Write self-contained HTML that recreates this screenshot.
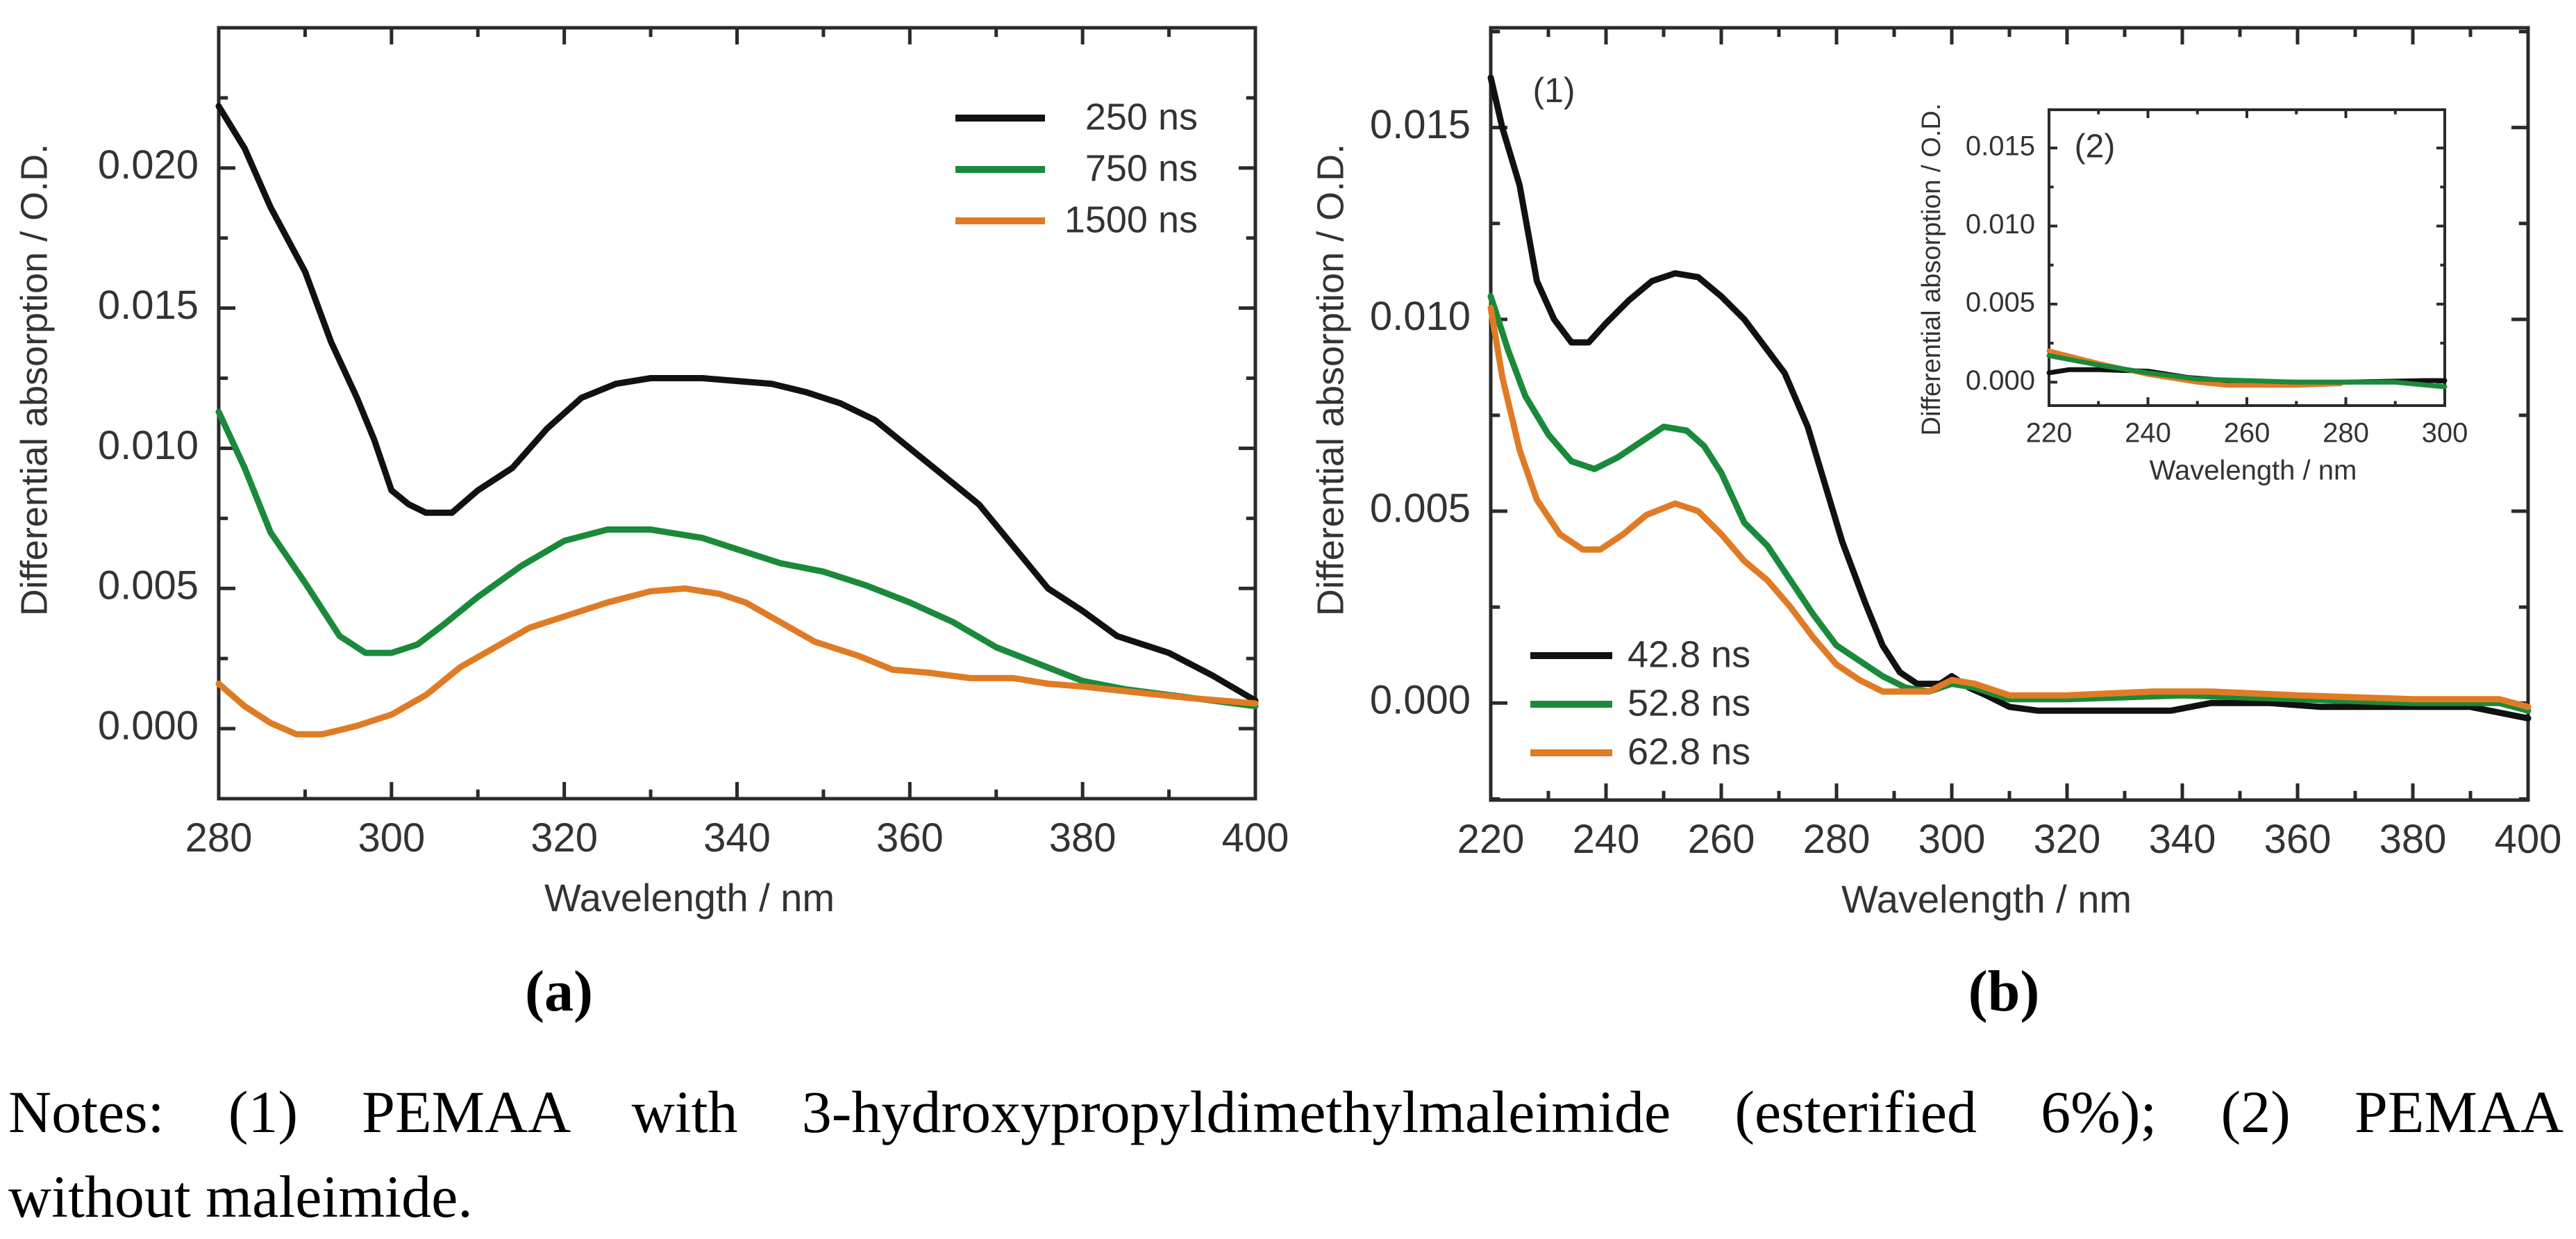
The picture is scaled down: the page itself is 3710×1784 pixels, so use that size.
<!DOCTYPE html>
<html><head><meta charset="utf-8"><style>
html,body{margin:0;padding:0;background:#fff;}
body{width:3710px;height:1768px;position:relative;overflow:hidden;}
svg{position:absolute;left:0;top:0;}
.notes{position:absolute;left:12px;top:1540px;width:3680px;font-family:"Liberation Serif",serif;font-size:86px;line-height:122px;color:#000;}
.l1{display:block;text-align:justify;text-align-last:justify;white-space:nowrap;}
.l1 span{white-space:normal;}
.l2{display:block;}
</style></head><body>
<svg id="chart" width="3710" height="1768" viewBox="0 0 3710 1768" font-family="Liberation Sans, sans-serif"></svg>
<div class="notes"><div class="l1" style="white-space:normal">Notes: (1) PEMAA with 3-hydroxypropyldimethylmaleimide (esterified 6%); (2) PEMAA</div><div class="l2">without maleimide.</div></div>
<script>
// Panel (a)
const aX250=[280,283,286,290,293,296,298,300,302,304,307,310,314,318,322,326,330,336,340,344,348,352,356,360,364,368,372,376,380,384,390,395,400];
const aY250=[0.0222,0.0207,0.0186,0.0163,0.0138,0.0118,0.0103,0.0085,0.0080,0.0077,0.0077,0.0085,0.0093,0.0107,0.0118,0.0123,0.0125,0.0125,0.0124,0.0123,0.0120,0.0116,0.0110,0.0100,0.0090,0.0080,0.0065,0.0050,0.0042,0.0033,0.0027,0.0019,0.0010];
const aX750=[280,283,286,290,294,297,300,303,306,310,315,320,325,330,336,340,345,350,355,360,365,370,375,380,385,390,395,400];
const aY750=[0.0113,0.0093,0.0070,0.0052,0.0033,0.0027,0.0027,0.0030,0.0037,0.0047,0.0058,0.0067,0.0071,0.0071,0.0068,0.0064,0.0059,0.0056,0.0051,0.0045,0.0038,0.0029,0.0023,0.0017,0.0014,0.0012,0.0010,0.0008];
const aX1500=[280,283,286,289,292,296,300,304,308,312,316,320,325,330,334,338,341,345,349,354,358,362,367,372,376,380,386,392,400];
const aY1500=[0.0016,0.0008,0.0002,-0.0002,-0.0002,0.0001,0.0005,0.0012,0.0022,0.0029,0.0036,0.0040,0.0045,0.0049,0.0050,0.0048,0.0045,0.0038,0.0031,0.0026,0.0021,0.0020,0.0018,0.0018,0.0016,0.0015,0.0013,0.0011,0.0009];
const aXTicks=[280,300,320,340,360,380,400];
const aYTicks=[0,0.005,0.010,0.015,0.020];
const aYLabels=["0.000","0.005","0.010","0.015","0.020"];
const aLegend=["250 ns","750 ns","1500 ns"];
// Panel (b)
const bX1=[220,222,225,228,231,234,237,240,244,248,252,256,260,264,268,271,275,278,281,285,288,291,294,298,300,303,306,310,315,325,338,345,355,364,380,390,400];
const bY1=[0.0163,0.0150,0.0135,0.0110,0.0100,0.0094,0.0094,0.0099,0.0105,0.0110,0.0112,0.0111,0.0106,0.0100,0.0092,0.0086,0.0072,0.0057,0.0042,0.0026,0.0015,0.0008,0.0005,0.0005,0.0007,0.0004,0.0002,-0.0001,-0.0002,-0.0002,-0.0002,0.0000,0.0000,-0.0001,-0.0001,-0.0001,-0.0004];
const bX2=[220,223,226,230,234,238,242,246,250,254,257,260,264,268,272,276,280,284,288,292,296,300,304,310,320,340,360,380,395,400];
const bY2=[0.0106,0.0092,0.0080,0.0070,0.0063,0.0061,0.0064,0.0068,0.0072,0.0071,0.0067,0.0060,0.0047,0.0041,0.0032,0.0023,0.0015,0.0011,0.0007,0.0004,0.0003,0.0005,0.0004,0.0001,0.0001,0.0002,0.0001,0.0000,0.0000,-0.0002];
const bX3=[220,222,225,228,232,236,239,243,247,252,256,260,264,268,272,276,280,284,288,292,296,300,304,310,320,335,345,360,380,395,400];
const bY3=[0.0103,0.0085,0.0066,0.0053,0.0044,0.0040,0.0040,0.0044,0.0049,0.0052,0.0050,0.0044,0.0037,0.0032,0.0025,0.0017,0.0010,0.0006,0.0003,0.0003,0.0003,0.0006,0.0005,0.0002,0.0002,0.0003,0.0003,0.0002,0.0001,0.0001,-0.0001];
const bXTicks=[220,240,260,280,300,320,340,360,380,400];
const bYTicks=[0,0.005,0.010,0.015];
const bYLabels=["0.000","0.005","0.010","0.015"];
const bLegend=["42.8 ns","52.8 ns","62.8 ns"];
// Inset
const iX1=[220,224,230,240,248,256,264,280,296,300];
const iY1=[0.0006,0.0008,0.0008,0.0007,0.0003,0.0001,0.0000,0.0000,0.0001,0.0001];
const iX2=[220,230,240,250,260,270,290,300];
const iY2=[0.0017,0.0011,0.0006,0.0002,0.0001,0.0000,0.0000,-0.0003];
const iX3=[220,230,240,250,256,270,279];
const iY3=[0.0020,0.0012,0.0005,0.0000,-0.0002,-0.0002,-0.0001];
const iXTicks=[220,240,260,280,300];
const iYTicks=[0,0.005,0.010,0.015];
const iYLabels=["0.000","0.005","0.010","0.015"];

const NS="http://www.w3.org/2000/svg";
const svg=document.getElementById('chart');
const COLORS=["#111111","#1a8a3a","#e07b25"];
function mk(tag,attrs,parent){const e=document.createElementNS(NS,tag);for(const k in attrs)e.setAttribute(k,attrs[k]);(parent||svg).appendChild(e);return e;}
function txt(s,x,y,size,anchor,parent,rot){const t=mk('text',{x:x,y:y,'font-size':size,'text-anchor':anchor||'middle',fill:'#333','dominant-baseline':'middle'},parent);if(rot)t.setAttribute('transform','rotate(-90 '+x+' '+y+')');t.textContent=s;return t;}

function panel(name,box,xr,yr,xTicks,xMinorStep,yTicks,yLabels,yMinorStep,fs,tickLen){
  const g=mk('g',{});
  
  
  const sx=v=>box.x0+(v-xr[0])/(xr[1]-xr[0])*(box.x1-box.x0);
  const sy=v=>box.y1-(v-yr[0])/(yr[1]-yr[0])*(box.y1-box.y0);
  const frame=mk('rect',{x:box.x0,y:box.y0,width:box.x1-box.x0,height:box.y1-box.y0,fill:'none',stroke:'#2a2a2a','stroke-width':box.sw},g);
  
  
  for(let v=xr[0];v<=xr[1]+1e-9;v+=xMinorStep){
    const major=xTicks.some(t=>Math.abs(t-v)<1e-6);const L=major?tickLen:tickLen*0.55;
    mk('line',{x1:sx(v),x2:sx(v),y1:box.y1,y2:box.y1-L,stroke:'#2a2a2a','stroke-width':box.sw},g);
    mk('line',{x1:sx(v),x2:sx(v),y1:box.y0,y2:box.y0+L,stroke:'#2a2a2a','stroke-width':box.sw},g);
  }
  for(let v=yTicks[0]-yMinorStep*Math.floor((yTicks[0]-yr[0])/yMinorStep);v<=yr[1]+1e-9;v+=yMinorStep){
    if(v<yr[0]-1e-9)continue;
    const major=yTicks.some(t=>Math.abs(t-v)<1e-9);const L=major?tickLen:tickLen*0.55;
    mk('line',{x1:box.x0,x2:box.x0+L,y1:sy(v),y2:sy(v),stroke:'#2a2a2a','stroke-width':box.sw},g);
    mk('line',{x1:box.x1,x2:box.x1-L,y1:sy(v),y2:sy(v),stroke:'#2a2a2a','stroke-width':box.sw},g);
  }
  xTicks.forEach(v=>{const t=txt(String(v),sx(v),box.y1+fs*1.05,fs,'middle',g);
    });
  yTicks.forEach((v,i)=>{const t=txt(yLabels[i],box.x0-fs*0.5,sy(v),fs,'end',g);
    });
  return {g,sx,sy};
}
function series(p,xs,ys,color,w,name){
  let d='';xs.forEach((x,i)=>{d+=(i?'L':'M')+p.sx(x).toFixed(1)+','+p.sy(ys[i]).toFixed(1);});
  const e=mk('path',{d:d,fill:'none',stroke:color,'stroke-width':w,'stroke-linejoin':'round','stroke-linecap':'round'},p.g);
  
  
}

const pa=panel('panel-a',{x0:315,x1:1808,y0:40,y1:1150,sw:5},[280,400],[-0.0025,0.025],aXTicks,10,aYTicks,aYLabels,0.0025,58,24);
series(pa,aX250,aY250,COLORS[0],9,'series-250ns');
series(pa,aX750,aY750,COLORS[1],9,'series-750ns');
series(pa,aX1500,aY1500,COLORS[2],9,'series-1500ns');
let t=txt('Wavelength / nm',993,1297,56,'middle',pa.g);
t=txt('Differential absorption / O.D.',53,547,54,'middle',pa.g,true);
aLegend.forEach((s,i)=>{const y=170+i*74;
  const l=mk('line',{x1:1376,x2:1505,y1:y,y2:y,stroke:COLORS[i],'stroke-width':10},pa.g);
  
  const tt=txt(s,1725,y+2,54,'end',pa.g);});

const pb=panel('panel-b',{x0:2147,x1:3641,y0:40,y1:1152,sw:5},[220,400],[-0.00253,0.0176],bXTicks,10,bYTicks,bYLabels,0.0025,58,24);
series(pb,bX1,bY1,COLORS[0],9,'series-42.8ns');
series(pb,bX2,bY2,COLORS[1],9,'series-52.8ns');
series(pb,bX3,bY3,COLORS[2],9,'series-62.8ns');
t=txt('Wavelength / nm',2861,1299,56,'middle',pb.g);
t=txt('Differential absorption / O.D.',1920,547,54,'middle',pb.g,true);
t=txt('(1)',2238,134,50,'middle',pb.g);
bLegend.forEach((s,i)=>{const y=944+i*70;
  const l=mk('line',{x1:2204,x2:2322,y1:y,y2:y,stroke:COLORS[i],'stroke-width':10},pb.g);
  
  const tt=txt(s,2344,y+2,54,'start',pb.g);});

const pi=panel('inset-panel',{x0:2951,x1:3521,y0:158,y1:584,sw:4},[220,300],[-0.0015,0.01745],iXTicks,10,iYTicks,iYLabels,0.0025,40,12);
series(pi,iX1,iY1,COLORS[0],7,'inset-series-black');
series(pi,iX3,iY3,COLORS[2],7,'inset-series-orange');
series(pi,iX2,iY2,COLORS[1],7,'inset-series-green');
t=txt('Wavelength / nm',3245,680,40,'middle',pi.g);
t=txt('Differential absorption / O.D.',2784,388,38,'middle',pi.g,true);
t=txt('(2)',3017,214,48,'middle',pi.g);

const ca=mk('text',{x:805,y:1455,'font-size':84,'font-weight':'bold','text-anchor':'middle','font-family':'Liberation Serif, serif',fill:'#000'});
ca.textContent='(a)';
const cb=mk('text',{x:2886,y:1455,'font-size':84,'font-weight':'bold','text-anchor':'middle','font-family':'Liberation Serif, serif',fill:'#000'});
cb.textContent='(b)';
</script>
</body></html>
